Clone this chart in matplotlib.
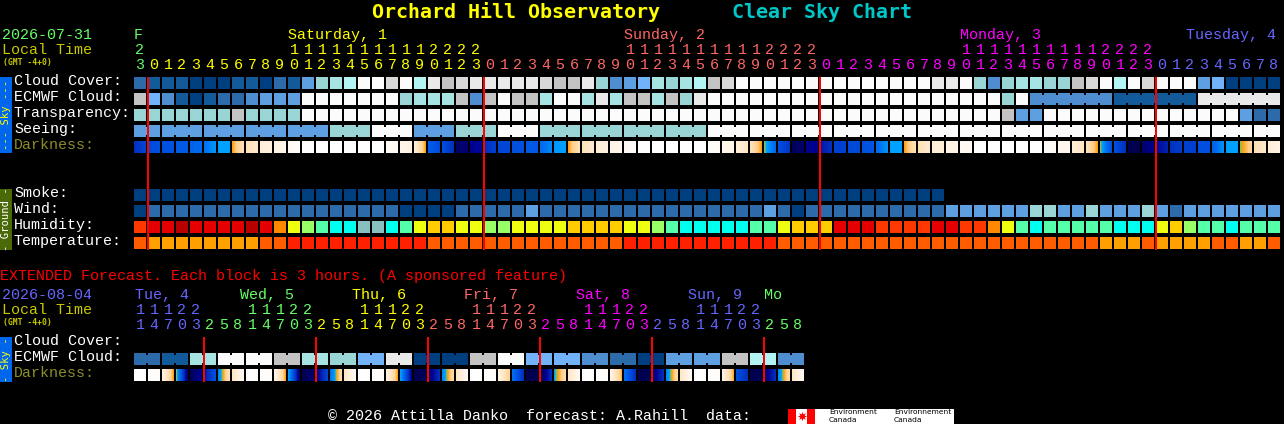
import numpy as np
import matplotlib
matplotlib.use("Agg")
import matplotlib.pyplot as plt
from matplotlib.colors import LinearSegmentedColormap
from matplotlib.patches import Rectangle

# colour keys for the sky rows
sky_colors = {'a': '#003f7f', 'b': '#135a9a', 'c': '#2c6aa9', 'd': '#4e8dcf', 'e': '#5e9fe2',
              'f': '#72b2f8', 'g': '#99d5d5', 'h': '#a6e3e3', 'i': '#b2f3f3', 'j': '#c3c3c3',
              'k': '#d8d8d8', 'l': '#e9e9e9', 'm': '#fbfbfb'}
humidity_colors = {'s': '#ff3800', 'r': '#e40000', 'q': '#b80000', 'o': '#ff8800', 'y': '#eeff10',
                   'l': '#99ff66', 'n': '#55ffaa', 'c': '#00ffee', 'x': '#88c0c0', 'u': '#ffcc00'}
temp_colors = {'o': '#ff5c00', 'g': '#ffa000', 'r': '#ff2000'}

# hourly rows, one letter per block
cloud_cover = ("cbbbaaabbacb" "eghimmkmi" "ljklllllkjjl" "gdefhghijk" "mmmmmmmmmmmmmm" "llm"
               "gdghhggjkmimkmmm" "efaaaa")
ecmwf_cloud = ("jfdbabccdeee" "mmmmmmm" "gh" "hh" "jdjmjjhmmhlhjjhjgl" "mmmmmmmmmmmmmmmmmmmmm"
               "gm" "dddddd" "bbbbbb" "llllll")
transparency = ("gggggggjgggg" "mmmmmmmmmmmmmmmmmmmmmmmmmmmmmmmmmmmmmmmmmmmmmmmmmm"
                "jee" "mmmmmmmmmmmmmm" "ecc")
seeing = ("eeeeeeeeeeeeee" "ggg" "mmm" "eee" "ggg" "mmm" "gggggggggggg"
          "mmmmmmmmmmmmmmmmmmmmmmmmmmmmmmmmmmmmmmmmm")
smoke = "aaaaaaaaaaaaaaaaaaaaaaaaaaaaaaaaaaaaaaaaaaaaaaaaaaaaaaaaaa"
wind = ("acccccccccccccccccc" "aaaa" "ccccc" "e" "cccccccccccccccc" "eca" "cccccccccc"
        "eeeeee" "gg" "ee" "geee" "ge" "c" "eeeeeee")
humidity = ("srrqrrrrqroylnccxxcny" "uuyyllyyyyuuuuyylncccccnnyuuurr"
            "rssssrrssoyncnnnnncccyulnncnnn")
temperature = ("ogggggggg" "oo" "rrrrrrrrrr" "oooooooooooooo" "rrrrrrrrrrr"
               "ooooooooooooooooooooooo" "ggg" "o" "gggg" "oo" "gg" "o")

# darkness per hourly block: value at left edge and at right edge (0 = daylight, 9 = darkest)
dark_start = [7, 6.2, 6, 5.7, 5.4, 5, 4, 3.5, 2.2, 1.5, 1.1, .5, 0, 0, 0, 0, 0, 0, .3, .8, 1.5,
              5.5, 6, 8.5, 8, 7, 6.3, 6, 5.7, 5.2, 4.2, 3.5, 2.2, 1.5, 1, .5, 0, 0, 0, 0, 0, .3, .6, 1.3, 2.2,
              3.7, 6, 8.8, 8, 7.5, 6.5, 6.2, 6, 5.2, 4, 3.5, 2.3, 1.5, 1, .5, 0, 0, 0, 0, 0, .3, .7, 1.5, 2.2,
              3.7, 6, 9, 8.5, 7.8, 7, 6.5, 6, 5.5, 4, 3.7, 2.3, 1.5]
dark_end = [6.3, 6, 5.9, 5.7, 5.2, 4.2, 4, 2.2, 1.8, 1.2, .8, .3, 0, 0, 0, 0, 0, 0, .6, 1.2, 3.5,
            6.2, 7, 8.5, 7.8, 6.5, 6.3, 6, 5.7, 4.5, 4, 2.2, 1.7, 1.2, .7, .2, 0, 0, 0, 0, 0, .3, 1, 2, 3.5,
            5.3, 6.8, 8.5, 8, 7, 6.5, 6.2, 5.8, 4.3, 4, 2.3, 1.8, 1.5, 1, .5, 0, 0, 0, 0, 0, .3, .7, 2, 3.5,
            6, 7, 9, 8, 7.3, 6.6, 6.5, 6, 4.3, 4, 2.8, 1.9, 1]

# extended forecast, 3 hour blocks
ext_ecmwf = "cbhmmjhgflaajmffdcaeejid"
ext_dark_start = [0, 0, 1, 3.7, 8.8, 7.5, 4.5, 2, 0, 0, .8, 4, 9, 8.2, 5, 2, 0, 0, 1, 4, 9, 8.5, 4.5, 2,
                  0, 0, 1, 5, 9, 9, 4, 2, 0, 0, 1, 5, 9, 8.5, 4.5, 2, 0, 0, 1, 6, 9, 8.5, 4.5, 2]
ext_dark_end = [0, .3, 3.5, 8.5, 8, 6, 2.2, .5, 0, .3, 3.5, 8.5, 8.5, 6.3, 2.5, .5, 0, .3, 3.5, 8, 8.8, 7, 2.5, .5,
                0, .3, 3, 7, 9, 7, 2.5, .5, 0, .3, 3.3, 7, 9, 7, 2.5, .5, 0, .3, 3.4, 7, 9, 7, 2.5, .5]

GREEN = '#66ff66'
YELLOW = '#ffff00'
SALMON = '#ff6666'
MAGENTA = '#ff00ff'
BLUE = '#6666ff'
DIM = '#c8c800'

# hour labels: (first column, hours, colour)
hour_runs = [(0, [23], GREEN),
             (1, list(range(24)), YELLOW),
             (25, list(range(24)), SALMON),
             (49, list(range(24)), MAGENTA),
             (73, list(range(9)), BLUE)]
day_labels = [(0, 'F', GREEN), (11, 'Saturday, 1', YELLOW), (35, 'Sunday, 2', SALMON),
              (59, 'Monday, 3', MAGENTA), (75.15, 'Tuesday, 4', BLUE)]
ext_day_hours = [2, 5, 8, 11, 14, 17, 20, 23]
ext_runs = [(0, [11, 14, 17, 20, 23], BLUE),
            (5, ext_day_hours, GREEN),
            (13, ext_day_hours, YELLOW),
            (21, ext_day_hours, SALMON),
            (29, ext_day_hours, MAGENTA),
            (37, ext_day_hours, BLUE),
            (45, [2, 5, 8], GREEN)]
ext_days = [(0.05, 'Tue, 4', BLUE), (7.6, 'Wed, 5', GREEN), (15.6, 'Thu, 6', YELLOW),
            (23.6, 'Fri, 7', SALMON), (31.6, 'Sat, 8', MAGENTA), (39.6, 'Sun, 9', BLUE), (45, 'Mo', GREEN)]

# darkness colour scale
dark_stops = [(0, '#ffffff'), (1, '#fff4e6'), (2, '#ffe6c4'), (3, '#ffd090'), (3.5, '#ffa010'),
              (3.7, '#90c050'), (4, '#00a0ff'), (5, '#0070f0'), (6, '#0050e0'), (7, '#0030c0'),
              (8, '#000090'), (9, '#000050')]
dark_cmap = LinearSegmentedColormap.from_list('dark', [(v / 9, c) for v, c in dark_stops], N=512)

X0 = 134
PITCH = 14
SIZE = 12

fig = plt.figure(figsize=(12.84, 4.24), dpi=100, facecolor='black')
ax = fig.add_axes([0, 0, 1, 1], facecolor='black')


def rect(x, y, w, h, color, zorder=2):
    # whole pixel coordinates, so no snapping needed
    ax.add_patch(Rectangle((x, y), w, h, facecolor=color, edgecolor='none', linewidth=0,
                           snap=False, zorder=zorder))


def text(x, y, s, color='white', size=10.8, family='Liberation Mono', **kw):
    ax.text(x, y, s, color=color, fontsize=size, family=family, va='center', **kw)


def draw_row(values, colors, y, joined=None):
    for i, key in enumerate(values):
        x = X0 + i * PITCH
        rect(x, y, SIZE, SIZE, colors[key])
        if joined is not None and i + 1 < len(values) and joined(i) and values[i + 1] == key:
            rect(x + SIZE, y + 2, PITCH - SIZE, SIZE - 4, colors[key])


def draw_dark(starts, ends, y):
    for i, (a, b) in enumerate(zip(starts, ends)):
        x = X0 + i * PITCH
        ax.imshow(np.linspace(a, b, SIZE).reshape(1, -1), cmap=dark_cmap, vmin=0, vmax=9,
                  extent=(x, x + SIZE, y + SIZE, y), aspect='auto', interpolation='nearest', zorder=2)


def draw_hours(runs, y_tens, y_ones):
    for col, hours, color in runs:
        for k, h in enumerate(hours):
            cx = X0 + (col + k) * PITCH + 6
            if h >= 10:
                text(cx, y_tens, str(h // 10), color, ha='center')
            text(cx, y_ones, str(h % 10), color, ha='center')


# titles
text(372, 12, 'Orchard Hill Observatory', YELLOW, 14.4, family='DejaVu Sans Mono', fontweight='bold')
text(732, 12, 'Clear Sky Chart', '#00c8c8', 14.4, family='DejaVu Sans Mono', fontweight='bold')

# header of hourly chart
text(2, 35, '2026-07-31', GREEN)
text(2, 50, 'Local Time', DIM)
text(3, 62, '(GMT -4+0)', DIM, 5.8, family='DejaVu Sans Mono', fontweight='bold')
for col, label, color in day_labels:
    text(X0 + col * PITCH, 35, label, color)
draw_hours(hour_runs, 50, 65)

# row labels
for y, label, color in [(81, 'Cloud Cover:', 'white'), (97, 'ECMWF Cloud:', 'white'),
                        (113, 'Transparency:', 'white'), (129, 'Seeing:', 'white'),
                        (145, 'Darkness:', '#8c8c28'), (193, 'Smoke:', 'white'),
                        (209, 'Wind:', 'white'), (225, 'Humidity:', 'white'),
                        (241, 'Temperature:', 'white')]:
    text(14, y, label, color)

# hourly rows
draw_row(cloud_cover, sky_colors, 77)
draw_row(ecmwf_cloud, sky_colors, 93, joined=lambda i: i >= 64)
draw_row(transparency, sky_colors, 109)
draw_row(seeing, sky_colors, 125, joined=lambda i: (i - 1) % 3 != 0)
draw_dark(dark_start, dark_end, 141)
draw_row(smoke, sky_colors, 189)
draw_row(wind, sky_colors, 205)
draw_row(humidity, humidity_colors, 221)
draw_row(temperature, temp_colors, 237)

# midnight lines
for col in [1, 25, 49, 73]:
    rect(X0 + col * PITCH - 1, 77, 2, 173, '#ff0000', zorder=4)

# side bars
rect(0, 77, 12, 76, '#0066ee')
ax.text(6, 115, '--- Sky ---', color=YELLOW, fontsize=7.6, family='DejaVu Sans Mono', rotation=90,
        ha='center', va='center', zorder=5)
rect(0, 189, 12, 61, '#4a6a08')
ax.text(6, 219.5, '- Ground -', color='white', fontsize=7.6, family='DejaVu Sans Mono', rotation=90,
        ha='center', va='center', zorder=5)

# extended forecast
text(0, 276, 'EXTENDED Forecast. Each block is 3 hours. (A sponsored feature)', '#ff0000')
text(2, 295, '2026-08-04', BLUE)
text(2, 310, 'Local Time', DIM)
text(3, 322, '(GMT -4+0)', DIM, 5.8, family='DejaVu Sans Mono', fontweight='bold')
for col, label, color in ext_days:
    text(X0 + col * PITCH, 295, label, color)
draw_hours(ext_runs, 310, 325)
for y, label, color in [(341, 'Cloud Cover:', 'white'), (357, 'ECMWF Cloud:', 'white'),
                        (373, 'Darkness:', '#8c8c28')]:
    text(14, y, label, color)

for p, key in enumerate(ext_ecmwf):
    x = X0 + p * 2 * PITCH
    rect(x, 353, SIZE, SIZE, sky_colors[key])
    rect(x + SIZE, 355, PITCH - SIZE, SIZE - 4, sky_colors[key])
    rect(x + PITCH, 353, SIZE, SIZE, sky_colors[key])
draw_dark(ext_dark_start, ext_dark_end, 369)
for col in [5, 13, 21, 29, 37, 45]:
    rect(X0 + col * PITCH - 1, 337, 2, 45, '#ff0000', zorder=4)
rect(0, 337, 12, 45, '#0066ee')
ax.text(6, 359.5, '- Sky -', color=YELLOW, fontsize=7.6, family='DejaVu Sans Mono', rotation=90,
        ha='center', va='center', zorder=5)

# footer
text(328, 416, '\u00a9 2026 Attilla Danko  forecast: A.Rahill  data:', 'white')
rect(788, 409, 166, 15, 'white')
rect(788, 409, 8, 15, '#ff0000')
rect(807, 409, 8, 15, '#ff0000')
ax.scatter([801.5], [416], marker=(8, 1, 0), s=45, color='#ff0000', linewidths=0, zorder=3)
text(829, 412.5, 'Environment', 'black', 5.4, family='DejaVu Sans', zorder=4)
text(829, 420.5, 'Canada', 'black', 5.4, family='DejaVu Sans', zorder=4)
text(894, 412.5, 'Environnement', 'black', 5.4, family='DejaVu Sans', zorder=4)
text(894, 420.5, 'Canada', 'black', 5.4, family='DejaVu Sans', zorder=4)

ax.set_xlim(0, 1284)
ax.set_ylim(424, 0)
ax.set_aspect('auto')
ax.axis('off')

fig.savefig('out.png', dpi=100, facecolor='black')
